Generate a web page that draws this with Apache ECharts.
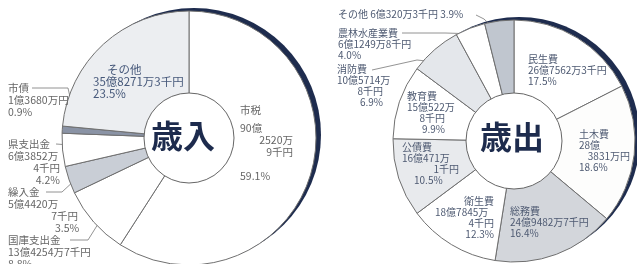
<!DOCTYPE html>
<html>
<head>
<meta charset="utf-8">
<script src="https://cdn.jsdelivr.net/npm/echarts@6/dist/echarts.min.js"></script>
<style>
html, body { margin: 0; background: #fff; }
#chart { width: 637px; height: 264px; }
</style>
</head>
<body>
<div id="chart"></div>
<script>
// 歳入
var inNames = ['市税', '国庫支出金', '繰入金', '県支出金', '市債', 'その他'];
var inPct = [59.1, 8.8, 3.5, 4.2, 0.9, 23.5];
var inAmount = [['90億', '2520万', '9千円'], ['13億4254万7千円'], ['5億4420万', '7千円'],
                ['6億3852万', '4千円'], ['1億3680万円'], ['35億8271万3千円']];
var inColors = ['#ffffff', '#ffffff', '#c9ced6', '#ffffff', '#8a93a5', '#eceef1'];

// 歳出
var outNames = ['民生費', '土木費', '総務費', '衛生費', '公債費', '教育費', '消防費', '農林水産業費', 'その他'];
var outPct = [17.5, 18.6, 16.4, 12.3, 10.5, 9.9, 6.9, 4.0, 3.9];
var outAmount = [['26億7562万3千円'], ['28億', '3831万円'], ['24億9482万7千円'], ['18億7845万', '4千円'],
                 ['16億471万', '1千円'], ['15億522万', '8千円'], ['10億5714万', '8千円'], ['6億1249万8千円'], ['6億320万3千円']];
var outColors = ['#ffffff', '#fdfdfc', '#d3d6db', '#ffffff', '#e8eaed', '#ffffff', '#e4e7eb', '#ffffff', '#c0c6cf'];

var FONT = '"Noto Sans CJK JP", sans-serif';

// ラベル配置 (x, y = 左上) / ni: 項目名の字下げ / pi: 割合の字下げ / pr: 割合を右寄せ
// lead: 引き出し線 (ラベル側の点), r: 扇形側の点の半径比
var inLayout = [
  { x: 240, y: 98, w: 53, nlh: 24, plh: 36 },
  { x: 8, y: 234, lead: [[88, 240], [70, 240]], r: 0.87 },
  { x: 8, y: 186, w: 70, pi: 47, lead: [[62, 192], [46, 192]], r: 0.92 },
  { x: 8, y: 138, w: 52, pr: true, lead: [[70, 145], [56, 144]], r: 0.8 },
  { x: 8, y: 82, lead: [[68, 88], [32, 88]], r: 0.88 },
  { x: 93, y: 64, ni: 14, fs: 11.5, c: '#46587a' }
];
var outLayout = [
  { x: 528, y: 54 },
  { x: 579, y: 129, w: 51 },
  { x: 510, y: 206 },
  { x: 435, y: 196, w: 59, ni: 29, pr: true },
  { x: 402, y: 142, w: 57, pi: 12 },
  { x: 407, y: 91, w: 38, pr: true },
  { x: 337, y: 64, w: 46, pr: true, lead: [[417, 60], [372, 70]], r: 0.85 },
  { x: 338, y: 28, lead: [[445, 33], [402, 33]], r: 0.95 },
  { x: 338, y: 9, inline: true, lead: [[484, 19], [476, 15]], r: 0.88 }
];

function labelText(name, amt, pct, L) {
  var v = pct.toFixed(1) + '%';
  if (L.inline) return '{a|' + name + ' ' + amt.join('') + ' ' + v + '}';
  var lines = ['{n|' + name + '}'];
  amt.forEach(function (s, i) { lines.push('{' + (i ? 'r' : 'a') + '|' + s + '}'); });
  lines.push('{p|' + v + '}');
  return lines.join('\n');
}

function richFor(base, L) {
  var c = L.c || base.c, fs = L.fs || base.fs, lh = base.lh;
  return {
    n: { fontFamily: FONT, fontSize: fs, lineHeight: L.nlh || lh, color: c, padding: [0, 0, 0, L.ni || 0] },
    a: { fontFamily: FONT, fontSize: fs, lineHeight: lh, color: c },
    r: { fontFamily: FONT, fontSize: fs, lineHeight: lh, color: c, align: 'right' },
    p: { fontFamily: FONT, fontSize: fs, lineHeight: L.plh || lh, color: c,
         align: L.pr ? 'right' : 'left', padding: [0, 0, 0, L.pi || 0] }
  };
}

// 扇形の中央角上の点
function anchor(pcts, i, cx, cy, R, k) {
  var total = 0, before = 0;
  pcts.forEach(function (p, j) { total += p; if (j < i) before += p; });
  var a = (before + pcts[i] / 2) / total * Math.PI * 2;
  return [cx + R * k * Math.sin(a), cy - R * k * Math.cos(a)];
}

function buildPie(names, pcts, amounts, colors, layout, geo, base) {
  var data = names.map(function (n, i) {
    var L = layout[i];
    return {
      name: n,
      value: pcts[i],
      itemStyle: { color: colors[i] },
      label: { formatter: labelText(n, amounts[i], pcts[i], L), rich: richFor(base, L), overflow: 'none' },
      labelLine: { show: !!L.lead, lineStyle: { color: '#777', width: 0.8 } }
    };
  });
  return [
    { // 縁の影
      type: 'pie', silent: true, z: 1, center: [geo.cx + 5, geo.cy - 3], radius: [0, geo.R],
      label: { show: false }, labelLine: { show: false },
      itemStyle: { color: '#1e2c4e' }, data: [1]
    },
    {
      type: 'pie', z: 2, center: [geo.cx, geo.cy], radius: [0, geo.R],
      startAngle: 90, clockwise: true, avoidLabelOverlap: false,
      itemStyle: { borderColor: '#707070', borderWidth: 1 },
      label: { show: true, position: 'outside', alignTo: 'none', overflow: 'none' },
      labelLine: { show: false },
      labelLayout: function (params) {
        var L = layout[params.dataIndex];
        var out = { x: L.x, y: L.y, align: 'left', verticalAlign: 'top' };
        if (L.w) out.width = L.w;
        if (L.lead) {
          out.labelLinePoints = [anchor(pcts, params.dataIndex, geo.cx, geo.cy, geo.R, L.r)]
            .concat(L.lead);
        }
        return out;
      },
      data: data
    },
    { // 中央の円
      type: 'pie', silent: true, z: 3, center: [geo.cx, geo.cy], radius: [0, geo.ri],
      label: { show: false }, labelLine: { show: false },
      itemStyle: { color: '#ffffff', borderColor: '#666', borderWidth: 1 }, data: [1]
    }
  ];
}

var chart = echarts.init(document.getElementById('chart'));
var left = { cx: 189, cy: 138, R: 127, ri: 45 };
var right = { cx: 514, cy: 141, R: 121, ri: 48 };

var option = {
  animation: false,
  backgroundColor: '#ffffff',
  series: buildPie(inNames, inPct, inAmount, inColors, inLayout, left, { c: '#666', fs: 10.5, lh: 12 })
    .concat(buildPie(outNames, outPct, outAmount, outColors, outLayout, right, { c: '#4e5a72', fs: 10, lh: 11 })),
  graphic: [
    { type: 'text', z: 10, left: 183 - 32, top: 139 - 19,
      style: { text: '歳入', fontFamily: FONT, fontSize: 32, fontWeight: 'bold', fill: '#1d2b4d' } },
    { type: 'text', z: 10, left: 512 - 32, top: 140 - 19,
      style: { text: '歳出', fontFamily: FONT, fontSize: 32, fontWeight: 'bold', fill: '#1d2b4d' } }
  ]
};
chart.setOption(option);
</script>
</body>
</html>
